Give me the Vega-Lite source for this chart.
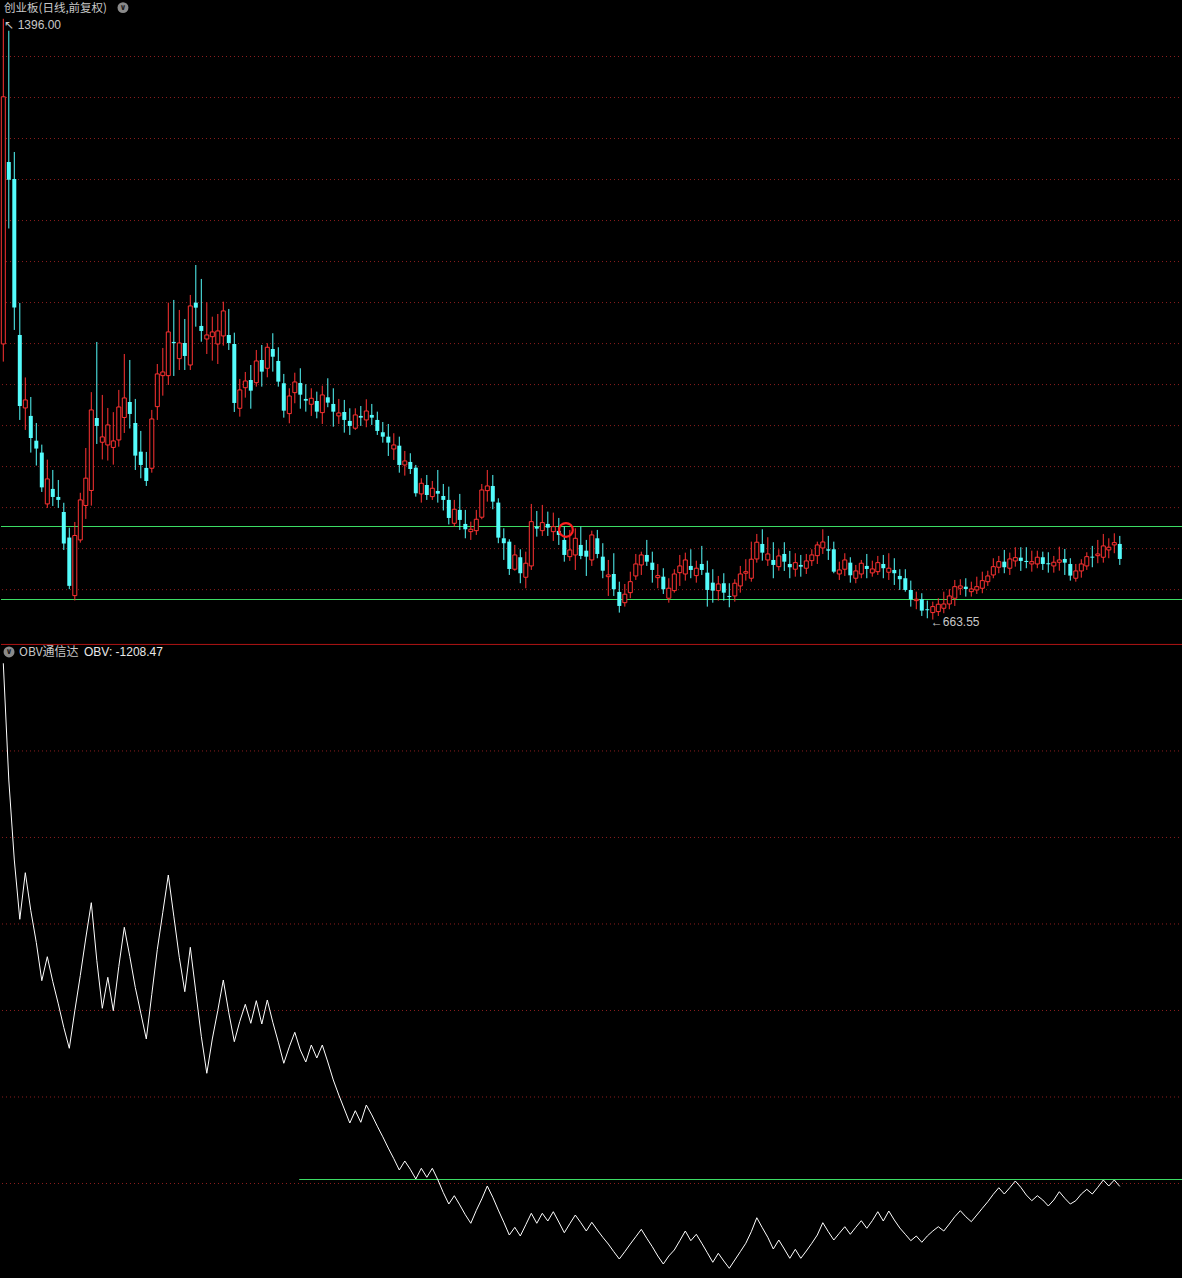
{
"$schema":"https://vega.github.io/schema/vega-lite/v6.json",
"background":"#000000",
"padding":0,
"spacing":0,
"bounds":"flush",
"config":{"view":{"stroke":null},"text":{"font":"Liberation Sans"},"scale":{"continuousPadding":0}},
"datasets":{
"k":[
{"i":0,"o":999.6,"h":1396,"l":978.0,"c":1300.9,"v":303.4},
{"i":1,"o":1221.4,"h":1381.4,"l":1140.3,"c":1199.7,"v":-33.9},
{"i":2,"o":1200.7,"h":1233.6,"l":1016.6,"c":1044.0,"v":-265.1},
{"i":3,"o":1010.5,"h":1049.5,"l":906.9,"c":923.9,"v":-436.5},
{"i":4,"o":921.5,"h":958.7,"l":894.7,"c":931.3,"v":-301.8},
{"i":5,"o":911.8,"h":934.9,"l":867.1,"c":884.9,"v":-411.6},
{"i":6,"o":881.6,"h":903.2,"l":851.3,"c":872.0,"v":-503.5},
{"i":7,"o":867.1,"h":876.8,"l":819.1,"c":824.7,"v":-613.9},
{"i":8,"o":804.5,"h":858.5,"l":799.6,"c":835.0,"v":-544.6},
{"i":9,"o":822.8,"h":845.9,"l":802.0,"c":813.0,"v":-616.8},
{"i":10,"o":813.0,"h":833.7,"l":799.6,"c":809.4,"v":-681.0},
{"i":11,"o":794.7,"h":805.9,"l":748.4,"c":756.3,"v":-749.2},
{"i":12,"o":763.5,"h":775.6,"l":700.6,"c":704.6,"v":-809.3},
{"i":13,"o":692.7,"h":782.5,"l":686.8,"c":766.0,"v":-700.9},
{"i":14,"o":760.6,"h":818.1,"l":757.3,"c":809.4,"v":-598.9},
{"i":15,"o":802.6,"h":872.7,"l":786.2,"c":835.9,"v":-490.5},
{"i":16,"o":820.9,"h":940.8,"l":802.4,"c":919.1,"v":-388.5},
{"i":17,"o":909.3,"h":1002.0,"l":877.6,"c":899.6,"v":-555.0},
{"i":18,"o":879.7,"h":937.4,"l":858.7,"c":886.2,"v":-693.7},
{"i":19,"o":876.4,"h":921.5,"l":857.4,"c":900.8,"v":-604.1},
{"i":20,"o":873.4,"h":916.4,"l":852.4,"c":881.3,"v":-700.6},
{"i":21,"o":882.5,"h":943.5,"l":874.3,"c":922.7,"v":-572.9},
{"i":22,"o":909.9,"h":987.3,"l":891.0,"c":933.7,"v":-459.6},
{"i":23,"o":928.8,"h":980.0,"l":896.5,"c":914.2,"v":-544.0},
{"i":24,"o":903.2,"h":932.5,"l":845.9,"c":863.4,"v":-633.6},
{"i":25,"o":868.2,"h":893.5,"l":835.8,"c":852.0,"v":-707.8},
{"i":26,"o":848.4,"h":867.9,"l":826.4,"c":832.5,"v":-782.4},
{"i":27,"o":848.0,"h":919.1,"l":842.6,"c":908.1,"v":-653.2},
{"i":28,"o":923.1,"h":975.1,"l":906.9,"c":963.0,"v":-523.8},
{"i":29,"o":960.9,"h":994.7,"l":936.5,"c":965.4,"v":-416.2},
{"i":30,"o":960.9,"h":1049.9,"l":949.5,"c":1014.2,"v":-308.5},
{"i":31,"o":1002.0,"h":1053.2,"l":960.5,"c":1000.5,"v":-427.5},
{"i":32,"o":981.6,"h":1041.0,"l":967.8,"c":1000.7,"v":-546.3},
{"i":33,"o":1000.7,"h":1030.0,"l":967.8,"c":984.9,"v":-645.7},
{"i":34,"o":973.9,"h":1059.3,"l":967.8,"c":1045.9,"v":-517.4},
{"i":35,"o":1049.9,"h":1095.8,"l":1020.6,"c":1043.8,"v":-646.0},
{"i":36,"o":1021.5,"h":1078.8,"l":1002.3,"c":1015.4,"v":-774.6},
{"i":37,"o":1005.6,"h":1050.4,"l":987.3,"c":1010.5,"v":-881.5},
{"i":38,"o":1008.4,"h":1032.8,"l":979.2,"c":1014.2,"v":-782.4},
{"i":39,"o":999.5,"h":1036.1,"l":975.1,"c":1015.4,"v":-700.0},
{"i":40,"o":1009.3,"h":1051.1,"l":997.5,"c":1039.8,"v":-611.9},
{"i":41,"o":1010.5,"h":1042.2,"l":992.2,"c":1000.7,"v":-706.7},
{"i":42,"o":999.5,"h":1013.3,"l":916.6,"c":927.6,"v":-790.2},
{"i":43,"o":921.1,"h":956.9,"l":910.9,"c":943.5,"v":-731.3},
{"i":44,"o":946.2,"h":965.4,"l":934.1,"c":954.4,"v":-682.1},
{"i":45,"o":955.6,"h":973.9,"l":920.6,"c":942.6,"v":-737.0},
{"i":46,"o":952.3,"h":992.2,"l":947.5,"c":978.8,"v":-671.7},
{"i":47,"o":980.0,"h":998.3,"l":947.5,"c":965.8,"v":-739.1},
{"i":48,"o":969.9,"h":1000.4,"l":958.9,"c":995.5,"v":-669.7},
{"i":49,"o":993.4,"h":1012.6,"l":965.8,"c":984.0,"v":-734.1},
{"i":50,"o":978.8,"h":995.5,"l":947.5,"c":953.6,"v":-791.6},
{"i":51,"o":951.6,"h":963.0,"l":909.7,"c":918.2,"v":-852.6},
{"i":52,"o":914.6,"h":945.5,"l":902.8,"c":936.1,"v":-805.0},
{"i":53,"o":940.2,"h":964.5,"l":927.2,"c":953.2,"v":-763.0},
{"i":54,"o":952.0,"h":969.9,"l":920.6,"c":937.7,"v":-814.2},
{"i":55,"o":932.5,"h":950.4,"l":917.0,"c":930.4,"v":-848.9},
{"i":56,"o":926.0,"h":945.5,"l":911.8,"c":933.3,"v":-799.8},
{"i":57,"o":930.0,"h":941.4,"l":908.9,"c":917.0,"v":-837.3},
{"i":58,"o":915.8,"h":948.7,"l":902.0,"c":937.4,"v":-799.8},
{"i":59,"o":934.5,"h":957.7,"l":922.4,"c":928.0,"v":-848.9},
{"i":60,"o":926.4,"h":945.5,"l":898.7,"c":917.0,"v":-900.9},
{"i":61,"o":911.8,"h":932.5,"l":902.0,"c":915.4,"v":-944.3},
{"i":62,"o":916.6,"h":931.3,"l":891.4,"c":906.9,"v":-984.7},
{"i":63,"o":905.7,"h":921.1,"l":888.6,"c":899.6,"v":-1025.2},
{"i":64,"o":896.8,"h":921.1,"l":894.7,"c":913.0,"v":-989.6},
{"i":65,"o":911.8,"h":923.9,"l":899.6,"c":909.7,"v":-1023.1},
{"i":66,"o":906.9,"h":932.1,"l":898.0,"c":917.8,"v":-973.2},
{"i":67,"o":913.0,"h":926.4,"l":900.8,"c":909.7,"v":-1001.8},
{"i":68,"o":906.9,"h":917.0,"l":888.6,"c":893.5,"v":-1034.4},
{"i":69,"o":891.9,"h":904.4,"l":879.2,"c":886.5,"v":-1065.1},
{"i":70,"o":886.5,"h":902.0,"l":863.0,"c":879.2,"v":-1097.7},
{"i":71,"o":871.5,"h":890.7,"l":858.1,"c":876.4,"v":-1128.3},
{"i":72,"o":875.5,"h":886.5,"l":842.6,"c":852.0,"v":-1161.0},
{"i":73,"o":852.0,"h":869.1,"l":839.0,"c":856.9,"v":-1135.0},
{"i":74,"o":855.7,"h":866.3,"l":841.0,"c":847.1,"v":-1159.0},
{"i":75,"o":848.7,"h":852.0,"l":813.4,"c":817.5,"v":-1187.0},
{"i":76,"o":816.7,"h":835.8,"l":806.1,"c":829.7,"v":-1156.1},
{"i":77,"o":827.6,"h":839.8,"l":809.4,"c":815.4,"v":-1182.1},
{"i":78,"o":813.4,"h":832.5,"l":809.4,"c":823.6,"v":-1156.1},
{"i":79,"o":820.3,"h":845.9,"l":806.1,"c":817.0,"v":-1189.0},
{"i":80,"o":814.2,"h":828.8,"l":796.5,"c":809.4,"v":-1226.3},
{"i":81,"o":809.4,"h":825.6,"l":779.5,"c":787.4,"v":-1259.3},
{"i":82,"o":780.9,"h":809.4,"l":776.8,"c":798.0,"v":-1235.3},
{"i":83,"o":797.2,"h":816.7,"l":772.8,"c":785.0,"v":-1261.9},
{"i":84,"o":780.1,"h":797.2,"l":762.6,"c":773.6,"v":-1290.2},
{"i":85,"o":770.7,"h":782.9,"l":760.6,"c":773.6,"v":-1315.0},
{"i":86,"o":771.9,"h":797.2,"l":766.7,"c":785.8,"v":-1277.8},
{"i":87,"o":788.3,"h":828.8,"l":785.8,"c":821.5,"v":-1244.5},
{"i":88,"o":820.7,"h":845.9,"l":807.3,"c":826.4,"v":-1207.2},
{"i":89,"o":826.4,"h":839.8,"l":798.0,"c":807.3,"v":-1239.9},
{"i":90,"o":806.1,"h":811.4,"l":756.6,"c":763.4,"v":-1276.9},
{"i":91,"o":762.6,"h":774.8,"l":736.2,"c":756.6,"v":-1311.9},
{"i":92,"o":758.5,"h":761.4,"l":717.9,"c":725.2,"v":-1348.9},
{"i":93,"o":724.9,"h":754.5,"l":723.1,"c":742.3,"v":-1326.6},
{"i":94,"o":739.5,"h":749.2,"l":707.8,"c":720.0,"v":-1351.7},
{"i":95,"o":715.1,"h":746.3,"l":701.7,"c":732.2,"v":-1319.1},
{"i":96,"o":728.9,"h":804.5,"l":724.0,"c":782.9,"v":-1286.1},
{"i":97,"o":776.8,"h":795.9,"l":764.6,"c":774.4,"v":-1315.0},
{"i":98,"o":771.9,"h":803.3,"l":765.5,"c":781.7,"v":-1286.1},
{"i":99,"o":780.1,"h":795.1,"l":765.5,"c":775.6,"v":-1308.4},
{"i":100,"o":770.7,"h":793.9,"l":759.4,"c":776.8,"v":-1281.5},
{"i":101,"o":771.6,"h":787.4,"l":754.5,"c":766.7,"v":-1311.3},
{"i":102,"o":760.6,"h":776.8,"l":734.1,"c":742.3,"v":-1342.2},
{"i":103,"o":740.2,"h":772.8,"l":735.0,"c":748.4,"v":-1316.2},
{"i":104,"o":742.3,"h":774.8,"l":724.0,"c":762.6,"v":-1291.1},
{"i":105,"o":754.5,"h":776.8,"l":737.1,"c":741.1,"v":-1313.3},
{"i":106,"o":747.5,"h":760.6,"l":716.7,"c":740.2,"v":-1337.3},
{"i":107,"o":736.2,"h":771.9,"l":728.9,"c":766.7,"v":-1312.1},
{"i":108,"o":762.6,"h":772.8,"l":738.3,"c":743.5,"v":-1334.4},
{"i":109,"o":740.2,"h":756.6,"l":713.9,"c":723.1,"v":-1355.5},
{"i":110,"o":715.8,"h":736.2,"l":692.3,"c":717.9,"v":-1374.9},
{"i":111,"o":719.1,"h":744.4,"l":692.3,"c":700.5,"v":-1397.1},
{"i":112,"o":697.2,"h":709.7,"l":672.0,"c":680.1,"v":-1418.2},
{"i":113,"o":684.1,"h":706.9,"l":679.3,"c":694.4,"v":-1397.1},
{"i":114,"o":696.3,"h":721.9,"l":689.5,"c":709.7,"v":-1374.9},
{"i":115,"o":716.7,"h":743.5,"l":711.8,"c":731.3,"v":-1353.8},
{"i":116,"o":730.1,"h":746.3,"l":717.9,"c":742.3,"v":-1332.4},
{"i":117,"o":742.3,"h":760.6,"l":728.9,"c":734.1,"v":-1358.4},
{"i":118,"o":732.9,"h":746.3,"l":708.5,"c":724.0,"v":-1382.7},
{"i":119,"o":714.6,"h":731.3,"l":701.7,"c":717.1,"v":-1409.5},
{"i":120,"o":715.8,"h":726.1,"l":694.7,"c":700.5,"v":-1432.7},
{"i":121,"o":689.5,"h":713.9,"l":684.1,"c":701.7,"v":-1409.5},
{"i":122,"o":698.8,"h":724.9,"l":696.3,"c":719.1,"v":-1392.2},
{"i":123,"o":720.7,"h":742.3,"l":704.5,"c":728.9,"v":-1365.3},
{"i":124,"o":719.1,"h":745.1,"l":711.0,"c":736.2,"v":-1337.3},
{"i":125,"o":728.9,"h":749.2,"l":713.9,"c":724.0,"v":-1365.3},
{"i":126,"o":717.1,"h":735.3,"l":708.5,"c":726.1,"v":-1346.8},
{"i":127,"o":731.3,"h":753.3,"l":717.9,"c":724.0,"v":-1372.8},
{"i":128,"o":720.7,"h":735.3,"l":679.3,"c":699.6,"v":-1400.0},
{"i":129,"o":708.5,"h":724.9,"l":684.1,"c":698.8,"v":-1427.7},
{"i":130,"o":698.8,"h":716.7,"l":686.6,"c":706.9,"v":-1401.7},
{"i":131,"o":707.8,"h":720.0,"l":686.6,"c":696.3,"v":-1424.0},
{"i":132,"o":692.3,"h":707.8,"l":678.5,"c":691.1,"v":-1445.1},
{"i":133,"o":692.3,"h":712.7,"l":685.4,"c":707.8,"v":-1421.1},
{"i":134,"o":704.5,"h":728.9,"l":696.3,"c":719.1,"v":-1397.1},
{"i":135,"o":720.0,"h":737.1,"l":711.0,"c":721.9,"v":-1372.8},
{"i":136,"o":713.9,"h":758.5,"l":709.7,"c":737.1,"v":-1339.3},
{"i":137,"o":737.4,"h":767.9,"l":732.9,"c":757.8,"v":-1298.9},
{"i":138,"o":755.7,"h":773.6,"l":735.3,"c":745.1,"v":-1327.8},
{"i":139,"o":736.2,"h":763.9,"l":728.9,"c":743.5,"v":-1355.5},
{"i":140,"o":736.2,"h":757.8,"l":713.9,"c":730.1,"v":-1389.3},
{"i":141,"o":728.0,"h":749.2,"l":723.1,"c":741.1,"v":-1363.3},
{"i":142,"o":743.5,"h":757.8,"l":722.8,"c":734.1,"v":-1389.3},
{"i":143,"o":731.3,"h":747.2,"l":713.9,"c":727.3,"v":-1416.2},
{"i":144,"o":724.9,"h":744.4,"l":715.8,"c":732.9,"v":-1390.2},
{"i":145,"o":730.1,"h":742.3,"l":715.8,"c":728.0,"v":-1416.2},
{"i":146,"o":726.1,"h":743.5,"l":719.1,"c":735.0,"v":-1395.1},
{"i":147,"o":735.3,"h":749.2,"l":728.9,"c":742.3,"v":-1372.8},
{"i":148,"o":741.4,"h":758.5,"l":731.3,"c":754.5,"v":-1348.9},
{"i":149,"o":750.8,"h":773.6,"l":743.5,"c":758.1,"v":-1313.3},
{"i":150,"o":749.2,"h":765.5,"l":736.2,"c":747.5,"v":-1339.3},
{"i":151,"o":749.2,"h":758.5,"l":720.0,"c":721.9,"v":-1363.3},
{"i":152,"o":719.1,"h":734.1,"l":711.8,"c":724.0,"v":-1343.9},
{"i":153,"o":724.9,"h":744.4,"l":716.7,"c":736.2,"v":-1324.9},
{"i":154,"o":732.9,"h":739.5,"l":708.5,"c":717.5,"v":-1346.8},
{"i":155,"o":713.9,"h":730.1,"l":707.8,"c":722.8,"v":-1326.6},
{"i":156,"o":719.1,"h":736.2,"l":713.9,"c":732.2,"v":-1307.5},
{"i":157,"o":728.9,"h":743.5,"l":713.9,"c":725.2,"v":-1329.5},
{"i":158,"o":720.4,"h":735.3,"l":715.8,"c":725.2,"v":-1307.5},
{"i":159,"o":721.9,"h":741.1,"l":717.9,"c":732.9,"v":-1281.5},
{"i":160,"o":731.3,"h":742.3,"l":713.9,"c":726.1,"v":-1308.4},
{"i":161,"o":721.2,"h":744.4,"l":711.8,"c":726.1,"v":-1279.5},
{"i":162,"o":724.0,"h":738.3,"l":705.7,"c":720.0,"v":-1305.5},
{"i":163,"o":716.7,"h":724.9,"l":699.6,"c":712.7,"v":-1328.6},
{"i":164,"o":713.9,"h":724.9,"l":697.5,"c":699.6,"v":-1346.8},
{"i":165,"o":699.6,"h":711.0,"l":679.3,"c":688.3,"v":-1365.3},
{"i":166,"o":686.6,"h":697.5,"l":676.1,"c":688.3,"v":-1351.7},
{"i":167,"o":688.3,"h":695.6,"l":667.9,"c":674.4,"v":-1369.9},
{"i":168,"o":676.1,"h":686.6,"l":665.1,"c":674.9,"v":-1351.7},
{"i":169,"o":672.0,"h":685.4,"l":663.55,"c":679.3,"v":-1337.3},
{"i":170,"o":673.2,"h":689.5,"l":667.9,"c":682.2,"v":-1324.9},
{"i":171,"o":677.3,"h":697.5,"l":671.2,"c":682.5,"v":-1337.3},
{"i":172,"o":682.5,"h":700.5,"l":676.1,"c":692.3,"v":-1317.1},
{"i":173,"o":689.5,"h":711.8,"l":680.1,"c":703.6,"v":-1296.0},
{"i":174,"o":701.7,"h":712.7,"l":693.5,"c":704.5,"v":-1278.6},
{"i":175,"o":703.6,"h":713.9,"l":691.5,"c":700.8,"v":-1296.0},
{"i":176,"o":697.5,"h":709.7,"l":691.5,"c":700.8,"v":-1310.4},
{"i":177,"o":699.6,"h":715.8,"l":694.7,"c":703.6,"v":-1291.1},
{"i":178,"o":701.7,"h":721.9,"l":695.6,"c":711.0,"v":-1271.7},
{"i":179,"o":709.7,"h":723.1,"l":704.5,"c":716.7,"v":-1252.6},
{"i":180,"o":717.9,"h":738.3,"l":713.9,"c":728.0,"v":-1231.2},
{"i":181,"o":727.3,"h":741.1,"l":720.0,"c":734.1,"v":-1212.2},
{"i":182,"o":734.1,"h":748.4,"l":720.0,"c":727.3,"v":-1230.4},
{"i":183,"o":726.1,"h":745.1,"l":717.9,"c":737.4,"v":-1212.2},
{"i":184,"o":735.0,"h":751.7,"l":728.0,"c":739.0,"v":-1192.8},
{"i":185,"o":739.0,"h":751.7,"l":722.8,"c":735.0,"v":-1211.0},
{"i":186,"o":735.0,"h":751.7,"l":726.1,"c":733.7,"v":-1233.3},
{"i":187,"o":731.3,"h":747.5,"l":721.9,"c":734.1,"v":-1249.7},
{"i":188,"o":731.3,"h":747.5,"l":726.1,"c":739.5,"v":-1235.3},
{"i":189,"o":739.5,"h":746.3,"l":724.0,"c":731.3,"v":-1247.7},
{"i":190,"o":732.2,"h":745.6,"l":720.7,"c":730.9,"v":-1265.0},
{"i":191,"o":728.9,"h":741.1,"l":720.7,"c":733.4,"v":-1247.7},
{"i":192,"o":733.4,"h":752.4,"l":723.1,"c":736.2,"v":-1223.7},
{"i":193,"o":737.4,"h":749.6,"l":717.9,"c":732.9,"v":-1242.8},
{"i":194,"o":731.3,"h":738.3,"l":711.0,"c":717.1,"v":-1259.3},
{"i":195,"o":713.9,"h":731.3,"l":709.7,"c":722.8,"v":-1249.7},
{"i":196,"o":722.8,"h":737.1,"l":714.6,"c":731.3,"v":-1230.4},
{"i":197,"o":728.9,"h":745.6,"l":724.0,"c":740.2,"v":-1216.8},
{"i":198,"o":740.2,"h":753.3,"l":727.3,"c":739.0,"v":-1230.4},
{"i":199,"o":741.4,"h":760.6,"l":732.2,"c":743.5,"v":-1211.0},
{"i":200,"o":739.5,"h":767.9,"l":732.9,"c":753.3,"v":-1189.9},
{"i":201,"o":748.4,"h":762.6,"l":738.3,"c":751.7,"v":-1207.2},
{"i":202,"o":754.5,"h":768.7,"l":744.4,"c":757.3,"v":-1189.9},
{"i":203,"o":755.7,"h":765.5,"l":730.1,"c":737.4,"v":-1208.47}
],
"pg":[{"g":700},{"g":750},{"g":800},{"g":850},{"g":900},{"g":950},{"g":1000},{"g":1050},{"g":1100},{"g":1150},{"g":1200},{"g":1250},{"g":1300},{"g":1350}],
"pl":[{"g":777.0},{"g":688.0}],
"og":[{"g":-1200},{"g":-950},{"g":-700},{"g":-450},{"g":-200},{"g":50}]
},
"vconcat":[
{
"width":1182,"height":645,
"data":{"values":[{}]},
"layer":[
{"data":{"name":"pg"},"mark":{"type":"rule","color":"#8c1e1e","strokeDash":[1,3],"strokeWidth":1},
 "encoding":{"y":{"field":"g","type":"quantitative","scale":{"domain":[632.5,1418.9],"nice":false,"zero":false},"axis":null}}},
{"data":{"name":"pl"},"mark":{"type":"rule","color":"#3cdc64","strokeWidth":1.2},
 "encoding":{"y":{"field":"g","type":"quantitative","scale":{"domain":[632.5,1418.9],"nice":false,"zero":false},"axis":null}}},
{"mark":{"type":"rule","color":"#b01414","strokeWidth":1},
 "encoding":{"y":{"datum":633.2,"type":"quantitative","scale":{"domain":[632.5,1418.9],"nice":false,"zero":false},"axis":null}}},
{"data":{"name":"k"},"transform":[{"filter":"datum.c >= datum.o"}],
 "mark":{"type":"rule","color":"#ff3232","strokeWidth":1},
 "encoding":{"x":{"field":"i","type":"quantitative","scale":{"domain":[-0.418,214.49],"nice":false,"zero":false,"padding":0},"axis":null},
  "y":{"field":"l","type":"quantitative","scale":{"domain":[632.5,1418.9],"nice":false,"zero":false},"axis":null},
  "y2":{"field":"h"}}},
{"data":{"name":"k"},"transform":[{"filter":"datum.c < datum.o"}],
 "mark":{"type":"rule","color":"#54fcfc","strokeWidth":1},
 "encoding":{"x":{"field":"i","type":"quantitative","scale":{"domain":[-0.418,214.49],"nice":false,"zero":false,"padding":0},"axis":null},
  "y":{"field":"l","type":"quantitative","scale":{"domain":[632.5,1418.9],"nice":false,"zero":false},"axis":null},
  "y2":{"field":"h"}}},
{"data":{"name":"k"},"transform":[{"filter":"datum.c >= datum.o"}],
 "mark":{"type":"bar","size":4,"fill":"#000000","stroke":"#ff3232","strokeWidth":1},
 "encoding":{"x":{"field":"i","type":"quantitative","scale":{"domain":[-0.418,214.49],"nice":false,"zero":false,"padding":0},"axis":null},
  "y":{"field":"o","type":"quantitative","scale":{"domain":[632.5,1418.9],"nice":false,"zero":false},"axis":null},
  "y2":{"field":"c"}}},
{"data":{"name":"k"},"transform":[{"filter":"datum.c < datum.o"}],
 "mark":{"type":"bar","size":4,"fill":"#54fcfc","strokeWidth":0},
 "encoding":{"x":{"field":"i","type":"quantitative","scale":{"domain":[-0.418,214.49],"nice":false,"zero":false,"padding":0},"axis":null},
  "y":{"field":"o","type":"quantitative","scale":{"domain":[632.5,1418.9],"nice":false,"zero":false},"axis":null},
  "y2":{"field":"c"}}},
{"mark":{"type":"point","shape":"circle","size":190,"filled":false,"stroke":"#ff2020","strokeWidth":2.2,"opacity":1},
 "encoding":{"x":{"datum":102.3,"type":"quantitative","scale":{"domain":[-0.418,214.49],"nice":false,"zero":false,"padding":0},"axis":null},
  "y":{"datum":772.8,"type":"quantitative","scale":{"domain":[632.5,1418.9],"nice":false,"zero":false},"axis":null}}},
{"mark":{"type":"text","text":"↖ 1396.00","align":"left","baseline":"middle","dx":1,"dy":6,"fontSize":12,"color":"#c8c8c8"},
 "encoding":{"x":{"datum":0,"type":"quantitative","scale":{"domain":[-0.418,214.49],"nice":false,"zero":false,"padding":0},"axis":null},
  "y":{"datum":1396,"type":"quantitative","scale":{"domain":[632.5,1418.9],"nice":false,"zero":false},"axis":null}}},
{"mark":{"type":"text","text":"←663.55","align":"left","baseline":"middle","dx":-2,"dy":2,"fontSize":12,"color":"#c8c8c8"},
 "encoding":{"x":{"datum":169,"type":"quantitative","scale":{"domain":[-0.418,214.49],"nice":false,"zero":false,"padding":0},"axis":null},
  "y":{"datum":663.55,"type":"quantitative","scale":{"domain":[632.5,1418.9],"nice":false,"zero":false},"axis":null}}},
{"mark":{"type":"text","text":"创业板(日线,前复权)","align":"left","baseline":"middle","fontSize":11.5,"font":"Noto Sans CJK SC","color":"#c8c8c8"},
 "encoding":{"x":{"datum":0.13,"type":"quantitative","scale":{"domain":[-0.418,214.49],"nice":false,"zero":false,"padding":0},"axis":null},
  "y":{"datum":1408.4,"type":"quantitative","scale":{"domain":[632.5,1418.9],"nice":false,"zero":false},"axis":null}}},
{"mark":{"type":"point","shape":"circle","size":120,"filled":true,"color":"#8a8a8a","opacity":1},
 "encoding":{"x":{"datum":21.76,"type":"quantitative","scale":{"domain":[-0.418,214.49],"nice":false,"zero":false,"padding":0},"axis":null},
  "y":{"datum":1409.6,"type":"quantitative","scale":{"domain":[632.5,1418.9],"nice":false,"zero":false},"axis":null}}},
{"mark":{"type":"text","text":"∨","align":"center","baseline":"middle","fontSize":8,"fontWeight":"bold","color":"#1a1a1a","font":"DejaVu Sans"},
 "encoding":{"x":{"datum":21.76,"type":"quantitative","scale":{"domain":[-0.418,214.49],"nice":false,"zero":false,"padding":0},"axis":null},
  "y":{"datum":1409.6,"type":"quantitative","scale":{"domain":[632.5,1418.9],"nice":false,"zero":false},"axis":null}}}
]
},
{
"width":1182,"height":633,
"data":{"values":[{}]},
"layer":[
{"data":{"name":"og"},"mark":{"type":"rule","color":"#8c1e1e","strokeDash":[1,3],"strokeWidth":1},
 "encoding":{"y":{"field":"g","type":"quantitative","scale":{"domain":[-1473.1,356.2],"nice":false,"zero":false},"axis":null}}},
{"mark":{"type":"rule","color":"#3cdc64","strokeWidth":1.2},
 "encoding":{"x":{"datum":53.8,"type":"quantitative","scale":{"domain":[-0.418,214.49],"nice":false,"zero":false,"padding":0},"axis":null},
  "x2":{"datum":214.49},
  "y":{"datum":-1188.5,"type":"quantitative","scale":{"domain":[-1473.1,356.2],"nice":false,"zero":false},"axis":null}}},
{"data":{"name":"k"},"mark":{"type":"line","color":"#ffffff","strokeWidth":1},
 "encoding":{"x":{"field":"i","type":"quantitative","scale":{"domain":[-0.418,214.49],"nice":false,"zero":false,"padding":0},"axis":null},
  "y":{"field":"v","type":"quantitative","scale":{"domain":[-1473.1,356.2],"nice":false,"zero":false},"axis":null}}},
{"mark":{"type":"point","shape":"circle","size":120,"filled":true,"color":"#8a8a8a","opacity":1},
 "encoding":{"x":{"datum":1.04,"type":"quantitative","scale":{"domain":[-0.418,214.49],"nice":false,"zero":false,"padding":0},"axis":null},
  "y":{"datum":336.0,"type":"quantitative","scale":{"domain":[-1473.1,356.2],"nice":false,"zero":false},"axis":null}}},
{"mark":{"type":"text","text":"∨","align":"center","baseline":"middle","fontSize":8,"fontWeight":"bold","color":"#1a1a1a","font":"DejaVu Sans"},
 "encoding":{"x":{"datum":1.04,"type":"quantitative","scale":{"domain":[-0.418,214.49],"nice":false,"zero":false,"padding":0},"axis":null},
  "y":{"datum":336.0,"type":"quantitative","scale":{"domain":[-1473.1,356.2],"nice":false,"zero":false},"axis":null}}},
{"mark":{"type":"text","text":"OBV通信达","align":"left","baseline":"middle","fontSize":12,"font":"Noto Sans CJK SC","color":"#c8c8c8"},
 "encoding":{"x":{"datum":2.85,"type":"quantitative","scale":{"domain":[-0.418,214.49],"nice":false,"zero":false,"padding":0},"axis":null},
  "y":{"datum":336.0,"type":"quantitative","scale":{"domain":[-1473.1,356.2],"nice":false,"zero":false},"axis":null}}},
{"mark":{"type":"text","text":"OBV: -1208.47","align":"left","baseline":"middle","fontSize":12,"color":"#e8e8e8"},
 "encoding":{"x":{"datum":14.67,"type":"quantitative","scale":{"domain":[-0.418,214.49],"nice":false,"zero":false,"padding":0},"axis":null},
  "y":{"datum":336.0,"type":"quantitative","scale":{"domain":[-1473.1,356.2],"nice":false,"zero":false},"axis":null}}}
]
}
]
}
